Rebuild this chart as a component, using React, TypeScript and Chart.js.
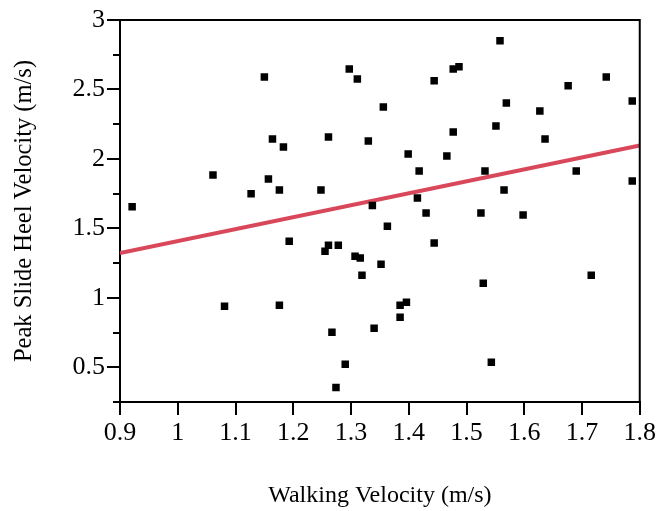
import React, { useEffect, useRef } from "react";
import { Chart, registerables } from "chart.js";

Chart.register(...registerables);

// Scatter data: walking velocity (x) vs. peak slide heel velocity (y), in m/s
const walkingVelocity = [
  1.150, 1.297, 1.311, 1.164, 1.183, 1.261, 1.330, 1.061, 1.157, 1.127,
  1.176, 1.248, 0.921, 1.337, 1.558, 1.477, 1.487, 1.444, 1.676, 1.742,
  1.356, 1.569, 1.627, 1.787, 1.477, 1.551, 1.399, 1.466, 1.636, 1.418,
  1.532, 1.690, 1.787, 1.565, 1.415, 1.193, 1.261, 1.255, 1.278, 1.307,
  1.316, 1.319, 1.352, 1.081, 1.176, 1.267, 1.340, 1.290, 1.274, 1.430,
  1.525, 1.598, 1.363, 1.444, 1.529, 1.716, 1.396, 1.385, 1.385, 1.543,
];
const heelVelocity = [
  2.590, 2.648, 2.576, 2.143, 2.086, 2.158, 2.129, 1.884, 1.855, 1.749,
  1.776, 1.776, 1.655, 1.665, 2.850, 2.648, 2.663, 2.562, 2.526, 2.590,
  2.374, 2.403, 2.345, 2.417, 2.194, 2.237, 2.035, 2.021, 2.143, 1.913,
  1.913, 1.913, 1.841, 1.776, 1.718, 1.408, 1.379, 1.336, 1.379, 1.300,
  1.286, 1.163, 1.242, 0.939, 0.947, 0.752, 0.781, 0.521, 0.355, 1.610,
  1.610, 1.596, 1.516, 1.394, 1.105, 1.163, 0.968, 0.947, 0.860, 0.536,
];

// Fitted trend line endpoints
const trendWalking = [0.9, 1.8];
const trendHeel = [1.322, 2.097];

// Axis ticks
const xTickValues = [0.9, 1, 1.1, 1.2, 1.3, 1.4, 1.5, 1.6, 1.7, 1.8];
const xTickLabels = ["0.9", "1", "1.1", "1.2", "1.3", "1.4", "1.5", "1.6", "1.7", "1.8"];
const yMajorTicks = [0.5, 1, 1.5, 2, 2.5, 3];
const yTickLabels = ["0.5", "1", "1.5", "2", "2.5", "3"];
const yMinorTicks = [0.25, 0.75, 1.25, 1.75, 2.25, 2.75];

const xTitle = "Walking Velocity (m/s)";
const yTitle = "Peak Slide Heel Velocity (m/s)";

const FONT = '"Liberation Serif", "Times New Roman", serif';

const framePlugin = {
  id: "frame",
  afterDraw(chart: any) {
    const { ctx, chartArea } = chart;
    const { left, top, right, bottom } = chartArea;
    const yScale = chart.scales.y;
    ctx.save();
    ctx.strokeStyle = "#000";
    ctx.lineWidth = 2;
    ctx.beginPath();
    ctx.moveTo(left - 1, top);
    ctx.lineTo(right, top);
    ctx.lineTo(right, bottom);
    ctx.stroke();
    ctx.beginPath();
    for (const v of yMinorTicks) {
      const py = Math.round(yScale.getPixelForValue(v));
      ctx.moveTo(left - 7, py);
      ctx.lineTo(left, py);
    }
    ctx.stroke();
    ctx.restore();
  },
};

export default function App() {
  const ref = useRef<HTMLCanvasElement>(null);

  useEffect(() => {
    Chart.defaults.font.family = FONT;
    Chart.defaults.color = "#000";
    const points = walkingVelocity.map((x, i) => ({ x, y: heelVelocity[i] }));
    const trend = trendWalking.map((x, i) => ({ x, y: trendHeel[i] }));

    const chart = new Chart(ref.current as HTMLCanvasElement, {
      type: "scatter",
      data: {
        datasets: [
          {
            label: "data",
            data: points,
            pointStyle: "rect",
            pointRadius: 5.3,
            pointHoverRadius: 5.3,
            backgroundColor: "#000",
            borderWidth: 0,
            order: 0,
          } as any,
          {
            type: "line",
            label: "fit",
            data: trend,
            borderColor: "rgb(217, 72, 90)",
            borderWidth: 4,
            pointRadius: 0,
            fill: false,
            order: 1,
          } as any,
        ],
      },
      options: {
        responsive: false,
        animation: false,
        devicePixelRatio: 1,
        layout: { padding: { top: 20, right: 19, left: 0, bottom: 0 } },
        plugins: {
          legend: { display: false },
          tooltip: { enabled: false },
        },
        scales: {
          x: {
            type: "linear",
            min: 0.9,
            max: 1.8,
            afterBuildTicks: (s: any) => {
              s.ticks = xTickValues.map((v) => ({ value: v }));
            },
            afterFit: (s: any) => {
              s.height = 109;
            },
            ticks: {
              autoSkip: false,
              maxRotation: 0,
              padding: 3,
              color: "#000",
              font: { size: 26, family: FONT },
              callback: (v: any) => {
                const i = xTickValues.findIndex((t) => Math.abs(t - v) < 1e-9);
                return i >= 0 ? xTickLabels[i] : "";
              },
            },
            grid: {
              drawOnChartArea: false,
              tickLength: 13,
              lineWidth: 2,
              color: "#000",
            },
            border: { color: "#000", width: 2 },
            title: {
              display: true,
              text: xTitle,
              color: "#000",
              font: { size: 24, family: FONT },
              padding: { top: 0, bottom: 1 },
            },
          },
          y: {
            type: "linear",
            min: 0.25,
            max: 3,
            afterBuildTicks: (s: any) => {
              const all = [...yMinorTicks, ...yMajorTicks].sort((a, b) => a - b);
              s.ticks = all.map((v) => ({ value: v, isMajor: yMajorTicks.includes(v) }));
            },
            afterFit: (s: any) => {
              s.width = 120;
            },
            ticks: {
              autoSkip: false,
              padding: 2,
              color: "#000",
              font: { size: 26, family: FONT },
              callback: (v: any) => {
                const i = yMajorTicks.findIndex((t) => Math.abs(t - v) < 1e-9);
                return i >= 0 ? yTickLabels[i] : "";
              },
            },
            grid: {
              drawOnChartArea: false,
              tickLength: 13,
              lineWidth: 2,
              color: "#000",
              tickColor: (ctx: any) =>
                ctx.tick && ctx.tick.isMajor ? "#000" : "rgba(0,0,0,0)",
            },
            border: { color: "#000", width: 2 },
            title: {
              display: true,
              text: yTitle,
              color: "#000",
              font: { size: 24.5, family: FONT },
              padding: { top: 10, bottom: 0 },
            },
          },
        },
      } as any,
      plugins: [framePlugin],
    });

    return () => chart.destroy();
  }, []);

  return (
    <div
      style={{
        position: "fixed",
        left: 0,
        top: 0,
        width: 659,
        height: 511,
        background: "#fff",
      }}
    >
      <canvas
        ref={ref}
        width={659}
        height={511}
        style={{ display: "block", width: 659, height: 511 }}
      />
    </div>
  );
}
